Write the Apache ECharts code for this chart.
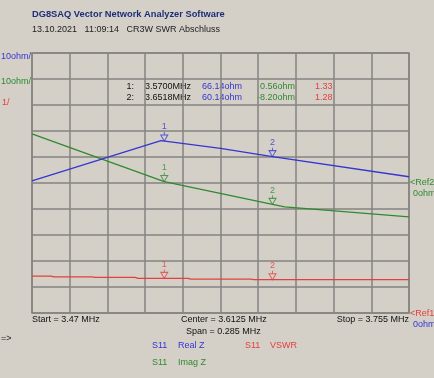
<!DOCTYPE html>
<html><head><meta charset="utf-8">
<script src="https://cdn.jsdelivr.net/npm/echarts@6/dist/echarts.min.js"></script>
<style>html,body{margin:0;padding:0;background:#d4d0c8;}#c{width:434px;height:378px;}</style>
</head><body><div id="c"></div>
<script>
// ---- data ----
const startMHz = 3.47, stopMHz = 3.755;
const realZFreq = [3.47, 3.5675, 3.6125, 3.6518, 3.755];
const realZVals = [50.8, 66.3, 63.3, 60.14, 52.4];
const imagZFreq = [3.47, 3.57, 3.6518, 3.661, 3.755];
const imagZVals = [18.9, 0.56, -8.2, -9.2, -13.0];
const vswrFreq = [3.47, 3.4845, 3.4865, 3.5155, 3.5175, 3.548, 3.550, 3.588, 3.590, 3.6355, 3.6375, 3.755];
const vswrVals = [1.42, 1.42, 1.39, 1.39, 1.37, 1.37, 1.33, 1.33, 1.30, 1.30, 1.28, 1.28];
const markerNames = ['1', '2'];
const markerFreq = [3.5700, 3.6518];
const markerReal = [66.14, 60.14];
const markerImag = [0.56, -8.20];
const markerVswr = [1.33, 1.28];
const xTickLabels = ['Start = 3.47 MHz', 'Center = 3.6125 MHz', 'Span = 0.285 MHz', 'Stop = 3.755 MHz'];

const BLUE = '#3535d2', GREEN = '#2f8a2f', RED = '#e2403f', BG = '#d4d0c8', GRIDC = '#858380';
const FONT = 'Liberation Sans';
const chart = echarts.init(document.getElementById('c'), null, {renderer: 'canvas'});

function zip(a, b) { return a.map((v, i) => [v, b[i]]); }
const markerPath = 'path://M5,0 L5,4 M0,4 L10,4 L5,12 Z';
function markerSeries(vals, color, yIdx) {
  return {
    type: 'scatter', xAxisIndex: 0, yAxisIndex: yIdx, z: 5,
    symbol: markerPath, symbolSize: [7, 9], symbolOffset: [0, -4.5],
    itemStyle: {color: 'rgba(0,0,0,0)', borderColor: color, borderWidth: 1},
    label: {show: true, position: 'top', distance: 0, formatter: p => markerNames[p.dataIndex],
            color: color, fontSize: 9, fontFamily: FONT},
    data: zip(markerFreq, vals), silent: true
  };
}
function txt(x, y, s, color, opts) {
  return Object.assign({type: 'text', x: x, y: y, silent: true,
    style: {text: s, fill: color, font: '9px "' + FONT + '"', textVerticalAlign: 'middle'}}, opts || {});
}
const g = [];
g.push({type: 'text', x: 32, y: 14, style: {text: 'DG8SAQ Vector Network Analyzer Software', fill: '#1e2d78',
  font: 'bold 9.3px "' + FONT + '"', textVerticalAlign: 'middle'}});
g.push(txt(32, 30, '13.10.2021   11:09:14   CR3W SWR Abschluss', '#222'));
g.push(txt(1, 57, '10ohm/', BLUE));
g.push(txt(1, 82, '10ohm/', GREEN));
g.push(txt(2, 103, '1/', RED));
const rowY = [86.5, 97.5];
for (let i = 0; i < 2; i++) {
  g.push(txt(134, rowY[i], markerNames[i] + ':', '#111', {style: {text: markerNames[i] + ':', fill: '#111', font: '9px "' + FONT + '"', textVerticalAlign: 'middle', textAlign: 'right'}}));
  g.push(txt(145, rowY[i], markerFreq[i].toFixed(4) + 'MHz', '#111'));
  g.push(txt(202, rowY[i], markerReal[i].toFixed(2) + 'ohm', BLUE));
  g.push({type: 'text', x: 295, y: rowY[i], silent: true, style: {text: markerImag[i].toFixed(2) + 'ohm', fill: GREEN,
    font: '9px "' + FONT + '"', textVerticalAlign: 'middle', textAlign: 'right'}});
  g.push(txt(315, rowY[i], markerVswr[i].toFixed(2), RED));
}
g.push(txt(32, 320, xTickLabels[0], '#111'));
g.push(txt(181, 320, xTickLabels[1], '#111'));
g.push(txt(186, 331.5, xTickLabels[2], '#111'));
g.push({type: 'text', x: 409, y: 320, silent: true, style: {text: xTickLabels[3], fill: '#111', font: '9px "' + FONT + '"', textVerticalAlign: 'middle', textAlign: 'right'}});
g.push(txt(410, 182.5, '<Ref2', GREEN));
g.push(txt(413, 193.5, '0ohm', GREEN));
g.push(txt(410, 314, '<Ref1', RED));
g.push(txt(413, 324.5, '0ohm', BLUE));
g.push(txt(1, 339, '=>', '#222'));
g.push(txt(152, 346, 'S11', BLUE));
g.push(txt(178, 346, 'Real Z', BLUE));
g.push(txt(245, 346, 'S11', RED));
g.push(txt(270, 346, 'VSWR', RED));
g.push(txt(152, 363, 'S11', GREEN));
g.push(txt(178, 363, 'Imag Z', GREEN));

chart.setOption({
  animation: false,
  backgroundColor: BG,
  grid: {left: 32, top: 53, width: 377, height: 260, show: true, borderColor: GRIDC, borderWidth: 1.5, backgroundColor: 'transparent'},
  xAxis: [
    {type: 'value', min: startMHz, max: stopMHz, show: false},
    {type: 'value', min: 0, max: 10, interval: 1, axisLine: {show: false}, axisTick: {show: false}, axisLabel: {show: false},
     splitLine: {show: true, lineStyle: {color: GRIDC, width: 1.5}}}
  ],
  yAxis: [
    {type: 'value', min: 0, max: 10, interval: 1, axisLine: {show: false}, axisTick: {show: false}, axisLabel: {show: false},
     splitLine: {show: true, lineStyle: {color: GRIDC, width: 1.5}}},
    {type: 'value', min: 0, max: 100, show: false, splitLine: {show: false}},
    {type: 'value', min: -50, max: 50, show: false, splitLine: {show: false}}
  ],
  series: [
    {type: 'line', xAxisIndex: 0, yAxisIndex: 0, data: zip(vswrFreq, vswrVals), showSymbol: false, lineStyle: {color: RED, width: 1.3}, silent: true},
    {type: 'line', xAxisIndex: 0, yAxisIndex: 2, data: zip(imagZFreq, imagZVals), showSymbol: false, lineStyle: {color: GREEN, width: 1.3}, silent: true},
    {type: 'line', xAxisIndex: 0, yAxisIndex: 1, data: zip(realZFreq, realZVals), showSymbol: false, lineStyle: {color: BLUE, width: 1.3}, silent: true},
    markerSeries(markerReal, BLUE, 1),
    markerSeries(markerImag, GREEN, 2),
    markerSeries(markerVswr, RED, 0)
  ],
  graphic: g
});
</script></body></html>
